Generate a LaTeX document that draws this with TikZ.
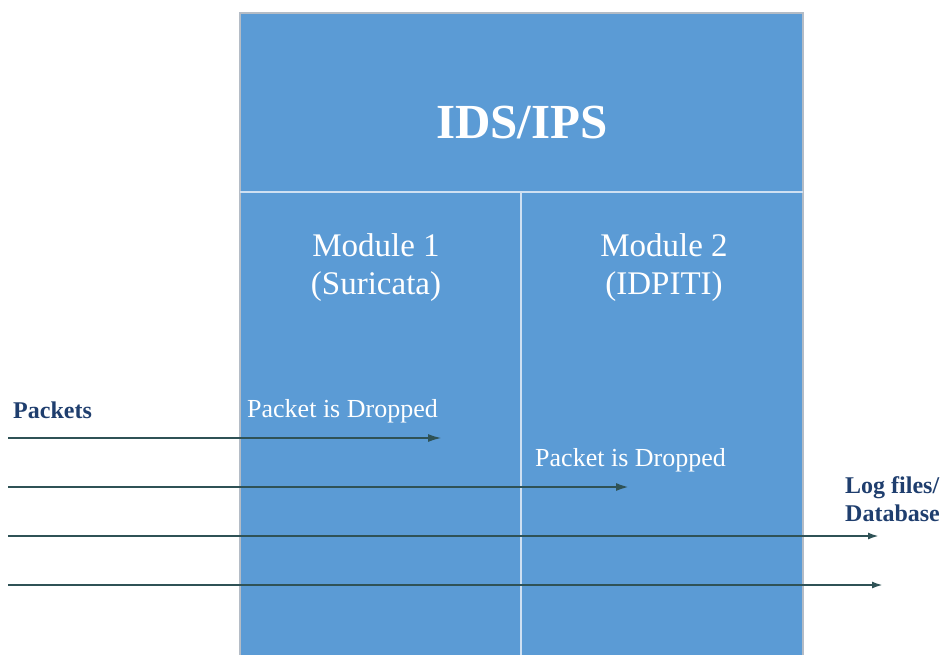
\documentclass[tikz,border=0pt]{standalone}
\usepackage{fontspec}
\setmainfont{Liberation Serif}
\usetikzlibrary{arrows.meta}
\definecolor{boxblue}{HTML}{5B9BD5}
\definecolor{boxedge}{HTML}{B4BCC6}
\definecolor{sepline}{HTML}{CFE0F2}
\definecolor{labblue}{HTML}{1F3E6E}
\definecolor{arrowcol}{HTML}{2F5256}
\tikzset{
  panel/.style={draw=boxedge, line width=1.5pt, fill=boxblue},
  sep/.style={draw=sepline, line width=2pt},
  whitetext/.style={text=white, inner sep=0pt, anchor=center},
  sidetext/.style={text=labblue, font=\bfseries\fontsize{24}{28}\selectfont, inner sep=0pt},
  flow/.style={draw=arrowcol, line width=2.2pt, -{Latex[length=14pt,width=8pt]}},
  flowthin/.style={draw=arrowcol, line width=2pt, -{Latex[length=11pt,width=7pt]}},
}
\begin{document}
\begin{tikzpicture}[x=1pt,y=-1pt]
\useasboundingbox (0,0) rectangle (944,654);
% panels
\path[panel] (240,13) rectangle (803,660);
\coordinate (sepL) at (240,192);
\coordinate (sepR) at (803,192);
\coordinate (divT) at (521,192);
\coordinate (divB) at (521,660);
\draw[sep] (sepL) -- (sepR);
\draw[sep] (divT) -- (divB);
% texts
\node[whitetext, font=\bfseries\fontsize{49}{54}\selectfont] (title) at (522,123) {IDS/IPS};
\node[whitetext, font=\fontsize{33}{38}\selectfont] (m1a) at (376,245) {Module 1};
\node[whitetext, font=\fontsize{33}{38}\selectfont] (m1b) at (376,287) {(Suricata)};
\node[whitetext, font=\fontsize{33}{38}\selectfont] (m2a) at (664,245) {Module 2};
\node[whitetext, font=\fontsize{33}{38}\selectfont] (m2b) at (664,287) {(IDPITI)};
\node[whitetext, font=\fontsize{26}{30}\selectfont, anchor=west] (d1) at (247,411) {Packet is Dropped};
\node[whitetext, font=\fontsize{26}{30}\selectfont, anchor=west] (d2) at (535,460) {Packet is Dropped};
\node[sidetext, anchor=west] (pk) at (13,410) {Packets};
\node[sidetext, anchor=west, align=left] (log) at (845,499) {Log files/\\Database};
% flows
\coordinate (s1) at (8,438); \coordinate (e1) at (442,438);
\coordinate (s2) at (8,487); \coordinate (e2) at (630,487);
\coordinate (s3) at (8,536); \coordinate (e3) at (879,536);
\coordinate (s4) at (8,585); \coordinate (e4) at (883,585);
\draw[flow] (s1) -- (e1);
\draw[flow, line width=2.8pt] (s2) -- (e2);
\draw[flowthin] (s3) -- (e3);
\draw[flowthin] (s4) -- (e4);
\end{tikzpicture}
\end{document}
